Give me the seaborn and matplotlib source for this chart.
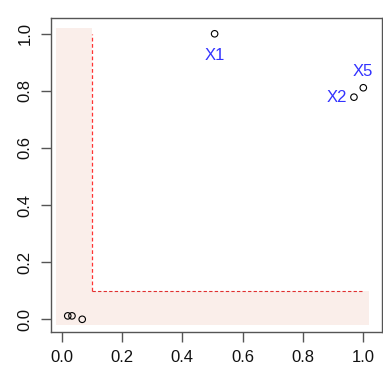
import matplotlib
matplotlib.use("Agg")
import matplotlib.pyplot as plt
import seaborn as sns
import pandas as pd

# data
names = ["X1", "X2", "X3", "X4", "X5", "X6"]
xs = [0.507, 0.969, 0.020, 0.034, 1.000, 0.068]
ys = [1.000, 0.778, 0.012, 0.012, 0.811, 0.000]
labelled = {"X1": "below", "X2": "left", "X5": "above"}
threshold = 0.1
xticks = [0.0, 0.2, 0.4, 0.6, 0.8, 1.0]
yticks = [0.0, 0.2, 0.4, 0.6, 0.8, 1.0]

sns.set_style("ticks")
plt.rcParams['font.family'] = ['Liberation Sans', 'DejaVu Sans']

df = pd.DataFrame({"name": names, "x": xs, "y": ys})

fig = plt.figure(figsize=(3.83, 3.82), dpi=100)
ax = fig.add_axes([0.1324, 0.1309, 0.9966 - 0.1324, 0.9537 - 0.1309])

shade = "#FAEEEA"
ax.fill_between([-0.02, threshold], -0.02, 1.02, color=shade, lw=0, zorder=0)
ax.fill_between([-0.02, 1.02], -0.02, threshold, color=shade, lw=0, zorder=0)
ax.plot([threshold, threshold], [threshold, 1.0], color="#FF3333", ls=(0, (3, 2)), lw=0.9, zorder=1)
ax.plot([threshold, 1.0], [threshold, threshold], color="#E03030", ls=(0, (3, 2)), lw=0.8, zorder=1)

sns.scatterplot(data=df, x="x", y="y", ax=ax, s=22, facecolor="none",
                edgecolor="black", linewidth=0.8, zorder=3, legend=False)

offsets = {"below": (0, -10, "center", "top"),
           "above": (0, 6, "center", "bottom"),
           "left": (-5, 0, "right", "center")}
for n, x, y in zip(names, xs, ys):
    if n in labelled:
        dx, dy, ha, va = offsets[labelled[n]]
        ax.annotate(n, (x, y), xytext=(dx, dy), textcoords="offset points",
                    ha=ha, va=va, color="#3333FF", fontsize=12)

ax.set_xlim(-0.0365, 1.061)
ax.set_ylim(-0.0445, 1.0564)
ax.set_xticks(xticks)
ax.set_yticks(yticks)
ax.set_xticklabels([f"{t:.1f}" for t in xticks], fontsize=12, color="#111111")
ax.set_yticklabels([f"{t:.1f}" for t in yticks], fontsize=12, rotation=90,
                   va="center", color="#111111")
ax.set_xlabel("")
ax.set_ylabel("")
for s in ax.spines.values():
    s.set_visible(True)
    s.set_color("#555555")
    s.set_linewidth(1.0)
ax.tick_params(length=7, width=1.0, color="#555555", pad=6)

fig.savefig("out.png", dpi=100)
